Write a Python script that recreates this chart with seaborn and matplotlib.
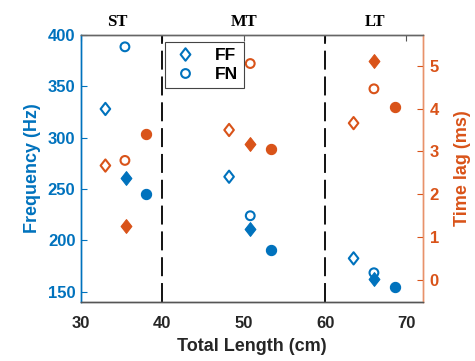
import matplotlib
matplotlib.use("Agg")
import matplotlib.pyplot as plt
from matplotlib.lines import Line2D
from matplotlib.path import Path
import seaborn as sns
import pandas as pd

# ---- data ----
length_ff = [33.0, 48.2, 63.5]
length_fn = [35.4, 50.8, 66.0]
length_ff2 = [35.5, 50.8, 66.0]
length_fn2 = [38.0, 53.3, 68.6]
freq_ff = [328, 262, 182.5]
freq_fn = [388.5, 224, 168.5]
freq_ff2 = [261, 211, 162.5]
freq_fn2 = [245, 190.5, 155]
lag_ff = [2.67, 3.50, 3.66]
lag_fn = [2.79, 5.05, 4.46]
lag_ff2 = [1.27, 3.17, 5.11]
lag_fn2 = [3.40, 3.06, 4.04]
region_labels = ["ST", "MT", "LT"]
region_centers = [34.5, 50.0, 66.2]
boundaries = [40, 60]
x_ticks = [30, 40, 50, 60, 70]
freq_ticks = [150, 200, 250, 300, 350, 400]
lag_ticks = [0, 1, 2, 3, 4, 5]

BLUE = "#0072BD"
ORANGE = "#D95319"
DARK = "#262626"

sns.set_style("white")
plt.rcParams["font.family"] = ["Liberation Sans", "DejaVu Sans"]
plt.rcParams["font.weight"] = "bold"

# MATLAB-like diamond (wider than matplotlib's thin diamond)
DIAMOND = Path([(0, 1), (0.78, 0), (0, -1), (-0.78, 0), (0, 1)],
               [Path.MOVETO, Path.LINETO, Path.LINETO, Path.LINETO, Path.CLOSEPOLY])

fig = plt.figure(figsize=(4.75, 3.61), dpi=100)
ax1 = fig.add_axes([0.1705, 0.1634, 0.7195, 0.7396])
ax2 = ax1.twinx()

def frame(x, y):
    return pd.DataFrame({"x": x, "y": y})

specs = [
    (length_ff, freq_ff, lag_ff, "d", True),
    (length_fn, freq_fn, lag_fn, "o", True),
    (length_ff2, freq_ff2, lag_ff2, "d", False),
    (length_fn2, freq_fn2, lag_fn2, "o", False),
]
for lx, fy, ly, mk, hollow in specs:
    marker = DIAMOND if mk == "d" else "o"
    if mk == "d":
        s = 78 if hollow else 98
    else:
        s = 40 if hollow else 54
    for ax, yy, col in ((ax1, fy, BLUE), (ax2, ly, ORANGE)):
        if hollow:
            sns.scatterplot(data=frame(lx, yy), x="x", y="y", ax=ax, marker=marker,
                            s=s, facecolor="none", edgecolor=col, linewidth=1.5,
                            legend=False, zorder=3)
        else:
            sns.scatterplot(data=frame(lx, yy), x="x", y="y", ax=ax, marker=marker,
                            s=s, color=col, edgecolor=col, linewidth=0.8,
                            legend=False, zorder=3)

for b in boundaries:
    ax1.axvline(b, color="black", lw=1.3, linestyle=(0, (10.5, 3.8)), zorder=2)

ax1.set_xlim(30, 72)
ax1.set_ylim(140, 400)
ax2.set_ylim(-0.513, 5.715)
ax1.set_xticks(x_ticks)
ax1.set_yticks(freq_ticks)
ax2.set_yticks(lag_ticks)

ax1.set_xlabel("Total Length (cm)", fontsize=13, fontweight="bold", color=DARK, labelpad=5)
ax1.set_ylabel("Frequency (Hz)", fontsize=13, fontweight="bold", color=BLUE, labelpad=5)
ax2.set_ylabel("Time lag (ms)", fontsize=13, fontweight="bold", color=ORANGE, labelpad=11)

ax1.tick_params(axis="x", direction="in", length=4, colors="#555555", labelcolor=DARK,
                labelsize=12, top=True, pad=10)
ax1.tick_params(axis="y", direction="in", length=4, colors=BLUE, labelcolor=BLUE,
                labelsize=12, pad=4)
ax2.tick_params(axis="y", direction="in", length=4, colors=ORANGE, labelcolor=ORANGE,
                labelsize=12, pad=5)
for lab in ax1.get_xticklabels() + ax1.get_yticklabels() + ax2.get_yticklabels():
    lab.set_fontweight("bold")

for ax in (ax1, ax2):
    ax.spines["top"].set_color("#666666")
    ax.spines["bottom"].set_color("#555555")
    ax.spines["left"].set_color(BLUE)
    ax.spines["right"].set_color("#E8926A")
    for sp in ax.spines.values():
        sp.set_linewidth(1.0)
        sp.set_visible(True)

for lab, cx in zip(region_labels, region_centers):
    ax1.text(cx, 1.02, lab, transform=ax1.get_xaxis_transform(), ha="center", va="bottom",
             fontsize=12, fontweight="bold", family=["Liberation Serif", "DejaVu Serif"],
             color="black")

handles = [
    Line2D([], [], marker=DIAMOND, linestyle="none", markerfacecolor="none",
           markeredgecolor=BLUE, markersize=9, markeredgewidth=1.5),
    Line2D([], [], marker="o", linestyle="none", markerfacecolor="none",
           markeredgecolor=BLUE, markersize=6.3, markeredgewidth=1.5),
]
leg = ax2.legend(handles, ["FF", "FN"], loc="upper left", bbox_to_anchor=(0.246, 0.973),
                 frameon=True, fancybox=False, edgecolor="#444444", framealpha=1,
                 prop={"weight": "bold", "size": 12.5}, handletextpad=0.9,
                 handlelength=1.6, borderpad=0.35, labelspacing=0.2, borderaxespad=0,
                 labelcolor="black")
leg.get_frame().set_linewidth(0.8)

fig.savefig("out.png", dpi=100)
